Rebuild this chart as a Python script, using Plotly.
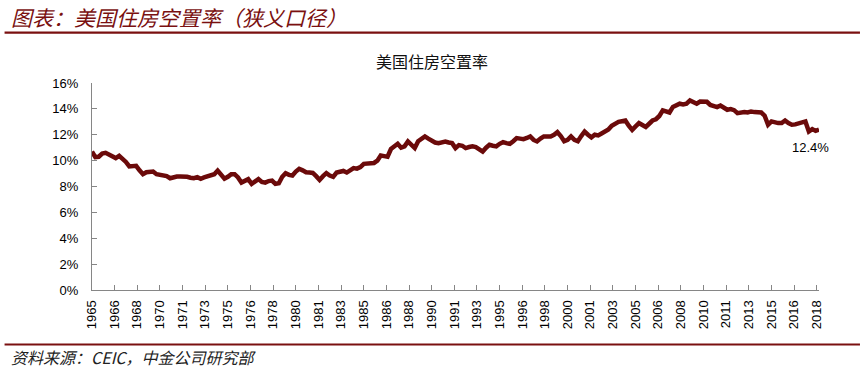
import pandas as pd
import plotly.graph_objects as go

# Quarterly vacancy rate (%), 1965Q1 .. 2018Q3
vacancy = [
    10.7, 10.27, 10.3, 10.55,
    10.6, 10.45, 10.3, 10.2,
    10.37, 10.15, 9.9, 9.55,
    9.55, 9.6, 9.25, 8.95,
    9.1, 9.16, 9.16, 8.95,
    8.9, 8.85, 8.8, 8.64,
    8.75, 8.77, 8.77, 8.77,
    8.75, 8.68, 8.64, 8.72,
    8.6, 8.7, 8.77, 8.8,
    8.95, 9.23, 8.9, 8.6,
    8.75, 8.95, 8.95, 8.7,
    8.3, 8.45, 8.57, 8.2,
    8.4, 8.57, 8.35, 8.3,
    8.42, 8.46, 8.2, 8.25,
    8.75, 9.03, 8.9, 8.85,
    9.15, 9.37, 9.25, 9.1,
    9.08, 9.05, 8.8, 8.51,
    8.8, 9.03, 8.85, 8.75,
    9.08, 9.15, 9.2, 9.08,
    9.3, 9.42, 9.38, 9.5,
    9.75, 9.8, 9.85, 9.82,
    10.0, 10.4, 10.35, 10.3,
    10.9, 11.1, 11.3, 11.0,
    11.1, 11.48, 11.2, 10.97,
    11.5, 11.65, 11.87, 11.7,
    11.5, 11.4, 11.35, 11.4,
    11.48, 11.4, 11.35, 10.97,
    11.2, 11.15, 10.97, 11.05,
    11.1, 11.05, 10.85, 10.7,
    11.0, 11.22, 11.15, 11.1,
    11.3, 11.43, 11.35, 11.3,
    11.5, 11.74, 11.7, 11.66,
    11.75, 11.87, 11.6, 11.48,
    11.7, 11.87, 11.87, 11.87,
    12.0, 12.2, 11.9, 11.5,
    11.6, 11.87, 11.6, 11.5,
    11.9, 12.25, 12.0, 11.8,
    12.0, 11.95, 12.1, 12.25,
    12.4, 12.7, 12.9, 13.0,
    13.05, 13.1, 12.7, 12.38,
    12.65, 12.9, 12.75, 12.6,
    12.85, 13.1, 13.2, 13.45,
    13.88, 13.8, 13.72, 14.15,
    14.3, 14.4, 14.35, 14.4,
    14.65, 14.5, 14.4, 14.57,
    14.57, 14.55, 14.3, 14.2,
    14.14, 14.26, 14.1, 13.93,
    13.98, 13.9, 13.67, 13.75,
    13.75, 13.72, 13.8, 13.75,
    13.72, 13.72, 13.47, 12.77,
    13.03, 12.95, 12.9, 12.9,
    13.1, 12.9, 12.77, 12.8,
    12.85, 12.95, 13.03, 12.25,
    12.44, 12.3, 12.4,
]
start_date = "1965-01-01"
tick_years = ["1965", "1966", "1968", "1970", "1971", "1973", "1975", "1976", "1978",
              "1980", "1981", "1983", "1985", "1986", "1988", "1990", "1991", "1993",
              "1995", "1996", "1998", "2000", "2001", "2003", "2005", "2006", "2008",
              "2010", "2011", "2013", "2015", "2016", "2018"]
y_ticks = [0, 2, 4, 6, 8, 10, 12, 14, 16]
last_label = "12.4%"

title_text = "美国住房空置率"
header_text = "图表：美国住房空置率（狭义口径）"
source_text = "资料来源：CEIC，中金公司研究部"

dates = pd.date_range(start=start_date, periods=len(vacancy), freq="QS")
tick_dates = pd.date_range(start=start_date, periods=len(tick_years), freq="20MS")

LINE = "#6B0A0A"
DARK = "#7A1010"
AXIS = "#868686"

fig = go.Figure()
fig.add_trace(go.Scatter(x=dates, y=vacancy, mode="lines",
                         line=dict(color=LINE, width=4.5), hoverinfo="skip",
                         showlegend=False))

# geometry
L, R, T, B = 91.5, 44, 83, 79
W = 863 - L - R
H = 369 - T - B


def px(x):
    return (x - L) / W


def py(y):
    return (369 - B - y) / H


fig.update_layout(
    width=863, height=369,
    margin=dict(l=L, r=R, t=T, b=B, autoexpand=False),
    paper_bgcolor="white", plot_bgcolor="white",
    showlegend=False,
    font=dict(family="Liberation Sans, Arial, sans-serif", color="#000000"),
    xaxis=dict(type="date", range=[dates[0], dates[-1]],
               tickmode="array", tickvals=tick_dates, ticktext=tick_years,
               tickangle=-90, ticks="inside", ticklen=5, tickcolor=AXIS,
               showline=True, linecolor=AXIS, linewidth=1.3,
               showgrid=False, zeroline=False,
               tickfont=dict(size=13, color="#000000"),
               ticklabelstandoff=4),
    yaxis=dict(range=[0, 16], tickmode="array", tickvals=y_ticks,
               ticktext=[f"{v}%" for v in y_ticks],
               ticks="inside", ticklen=5, tickcolor=AXIS,
               showline=True, linecolor=AXIS, linewidth=1.3,
               showgrid=False, zeroline=False,
               tickfont=dict(size=13, color="#000000"),
               ticklabelstandoff=10),
)

fig.add_annotation(x=dates[-1], y=vacancy[-1], text=last_label, showarrow=False,
                   xshift=-9, yshift=-18, font=dict(size=13, color="#000000"))

fig.add_annotation(xref="paper", yref="paper", x=px(432), y=py(61), text=title_text,
                   showarrow=False, xanchor="center", yanchor="middle",
                   font=dict(family="Noto Sans CJK SC", size=16, color="#111111"))

fig.add_annotation(xref="paper", yref="paper", x=px(8), y=py(17), text=header_text,
                   showarrow=False, xanchor="left", yanchor="middle",
                   font=dict(family="Noto Sans CJK SC", size=21, color=DARK, style="italic"))

fig.add_annotation(xref="paper", yref="paper", x=px(8), y=py(357), text=source_text,
                   showarrow=False, xanchor="left", yanchor="middle",
                   font=dict(family="Noto Sans CJK SC", size=16, color="#222222", style="italic"))

fig.add_shape(type="line", xref="paper", yref="paper", x0=px(4), x1=px(860),
              y0=py(32.7), y1=py(32.7), line=dict(color=DARK, width=2.2))
fig.add_shape(type="line", xref="paper", yref="paper", x0=px(4), x1=px(860),
              y0=py(344.5), y1=py(344.5), line=dict(color=DARK, width=2.2))

fig.write_html("out.html", config={"displayModeBar": False},
               post_script="document.body.style.margin='0';")
